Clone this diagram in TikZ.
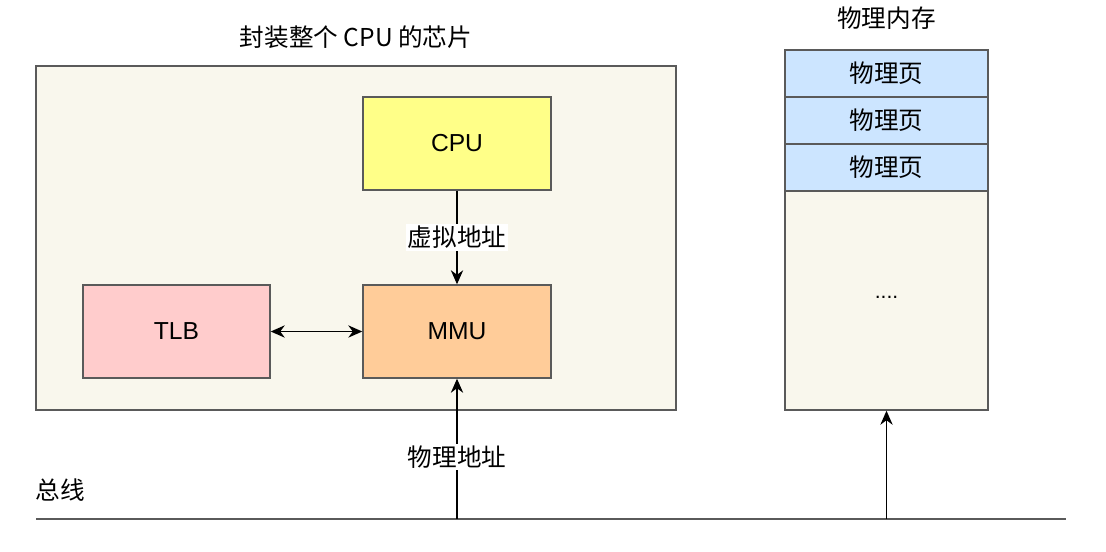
\documentclass[tikz,border=0pt]{standalone}
\usepackage{fontspec}
\setmainfont{Liberation Sans}
\newfontfamily\cjk{Noto Sans CJK SC}
\usepackage{tikz}
\usetikzlibrary{arrows.meta, positioning}
\definecolor{chipfill}{HTML}{f9f7ed}
\definecolor{edgegray}{HTML}{5a5a5a}
\definecolor{cpufill}{HTML}{ffff88}
\definecolor{mmufill}{HTML}{ffcc99}
\definecolor{tlbfill}{HTML}{ffcccc}
\definecolor{pagefill}{HTML}{cce5ff}

\begin{document}
\begin{tikzpicture}[
  blk/.style={
    rectangle, draw=edgegray, line width=0.8pt,
    minimum width=3.76cm, minimum height=1.86cm, font=\fontsize{14}{16}\selectfont},
  pg/.style={blk, fill=pagefill, minimum width=4.06cm, minimum height=0.94cm,
    font=\fontsize{14}{16}\selectfont\cjk},
  tip/.style={Stealth[length=8pt, width=7pt]},
  ar/.style={-{Stealth[length=8pt, width=7pt]}, line width=0.8pt},
  lbl/.style={font=\fontsize{14}{16}\selectfont\cjk, fill=white, inner sep=1pt},
  ttl/.style={font=\fontsize{14}{16}\selectfont\cjk},
]
  \useasboundingbox (0,0) rectangle (22.12,-11.02);

  \node[blk, fill=chipfill, minimum width=12.8cm, minimum height=6.88cm] (chip) at (7.12,-4.76) {};
  \node[ttl] (chiptitle) at (7.12,-0.74) {封装整个 CPU 的芯片};

  \node[blk, fill=cpufill] (cpu) at (9.14,-2.87) {CPU};
  \node[blk, fill=mmufill] (mmu) at (9.14,-6.63) {MMU};
  \node[blk, fill=tlbfill, minimum width=3.74cm] (tlb) at (3.53,-6.63) {TLB};

  \node[ttl] (memtitle) at (17.73,-0.36) {物理内存};
  \node[pg] (pg1) at (17.73,-1.47) {物理页};
  \node[pg] (pg2) at (17.73,-2.41) {物理页};
  \node[pg] (pg3) at (17.73,-3.35) {物理页};
  \node[blk, fill=chipfill, minimum width=4.06cm, minimum height=4.38cm] (rest) at (17.73,-6.01) {};
  \node[font=\fontsize{12}{14}\selectfont] (dots) at (17.73,-5.95) {....};

  % bus
  \coordinate (busl) at (0.72,-10.38);
  \coordinate (busr) at (21.32,-10.38);
  \coordinate (tapmmu) at (9.14,-10.38);
  \coordinate (tapmem) at (17.73,-10.38);
  \draw[edgegray, line width=0.8pt] (busl) -- (busr);
  \node[ttl] (buslbl) at (1.2,-9.8) {总线};

  \draw[ar] (cpu) -- node[lbl] {虚拟地址} (mmu);
  \draw[line width=0.8pt, {Stealth[length=8pt, width=7pt]}-{Stealth[length=8pt, width=7pt]}] (tlb) -- (mmu);
  \draw[ar] (tapmmu) -- node[lbl, pos=0.44] {物理地址} (mmu);
  \draw[ar] (tapmem) -- (rest);
\end{tikzpicture}
\end{document}
